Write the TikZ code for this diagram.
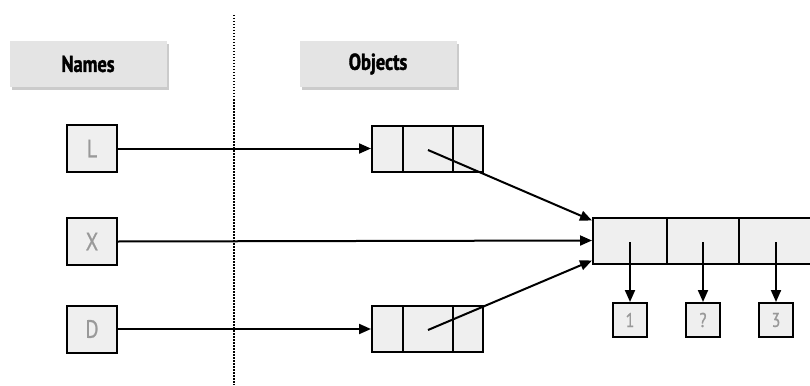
\documentclass[tikz,border=0pt]{standalone}
\usepackage{fontspec}
\setmainfont{PT Sans}
\newfontfamily\hdrfont[FakeStretch=0.8,FakeBold=1.5]{PT Sans Bold}
\newfontfamily\lblfont[FakeStretch=0.8,FakeBold=1]{PT Sans}
\usetikzlibrary{arrows.meta,shadows}
\definecolor{hdrgray}{HTML}{E4E4E4}
\definecolor{boxgray}{HTML}{EFEFEF}
\definecolor{txtgray}{HTML}{999999}
\tikzset{
  hdr/.style={fill=hdrgray, draw=none, minimum width=157pt, minimum height=46pt, inner sep=0pt,
    font=\hdrfont\fontsize{23}{23}\selectfont, drop shadow={shadow xshift=2pt, shadow yshift=-3pt, fill=black!40}},
  namebox/.style={draw=black, line width=2pt, fill=boxgray, minimum width=50pt, minimum height=47pt, inner sep=0pt,
    font=\lblfont\fontsize{25}{25}\selectfont, text=txtgray},
  cell/.style={draw=black, line width=2pt, fill=boxgray, minimum height=46pt, inner sep=0pt},
  numbox/.style={draw=black, line width=2pt, fill=boxgray, minimum width=34pt, minimum height=34pt, inner sep=0pt,
    font=\lblfont\fontsize{20}{20}\selectfont, text=txtgray},
  ptr/.style={line width=2pt, -{Triangle[length=12pt,width=10pt]}},
}
\begin{document}
\begin{tikzpicture}[x=1pt,y=-1pt]
\useasboundingbox (0,0) rectangle (810,385);
\fill[white] (0,0) rectangle (810,385);
% divider
\draw[dash pattern=on 1.5pt off 1.5pt, line width=1.8pt] (234,15) -- (234,385);
% headers
\node[hdr] (hn) at (88,64) {Names};
\node[hdr] (ho) at (378,64) {Objects};
% names
\node[namebox] (L) at (92,148.5) {L};
\node[namebox] (X) at (92,241.5) {X};
\node[namebox] (D) at (92,329) {D};
% L object
\node[cell, minimum width=31pt] (l1) at (387.5,148.5) {};
\node[cell, minimum width=50pt] (l2) at (428,148.5) {};
\node[cell, minimum width=30pt] (l3) at (468,148.5) {};
% D object
\node[cell, minimum width=31pt] (d1) at (387.5,329) {};
\node[cell, minimum width=50pt] (d2) at (428,329) {};
\node[cell, minimum width=30pt] (d3) at (468,329) {};
% shared list
\node[cell, minimum width=74pt] (x1) at (630,240.5) {};
\node[cell, minimum width=72pt] (x2) at (703,240.5) {};
\node[cell, minimum width=74pt] (x3) at (776,240.5) {};
% values
\node[numbox] (n1) at (630,320) {1};
\node[numbox] (n2) at (703,320) {?};
\node[numbox] (n3) at (776,320) {3};
% coordinates for pointer starts
\coordinate (lp) at (428,150);
\coordinate (dp) at (428,330);
\coordinate (p1) at (630,242);
\coordinate (p2) at (703,242);
\coordinate (p3) at (776,242);
% arrows
\draw[ptr] (L.east) -- (l1.west);
\draw[ptr] (X.east) -- (x1.west);
\draw[ptr] (D.east) -- (d1.west);
\draw[ptr] (lp) -- ([yshift=-4pt]x1.north west);
\draw[ptr] (dp) -- ([yshift=4pt]x1.south west);
\draw[ptr] (p1) -- (n1.north);
\draw[ptr] (p2) -- (n2.north);
\draw[ptr] (p3) -- (n3.north);
\end{tikzpicture}
\end{document}
